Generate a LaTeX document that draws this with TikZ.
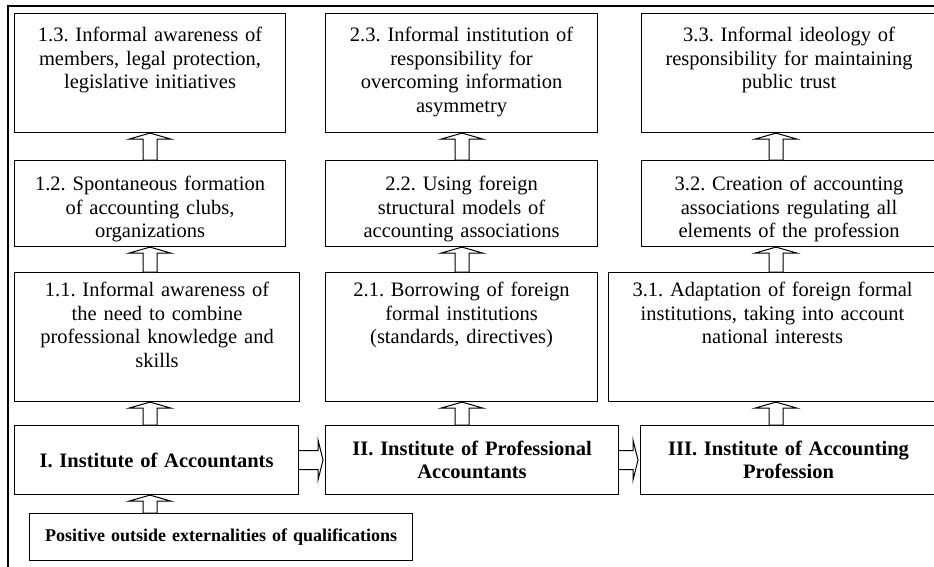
\documentclass[tikz,border=0pt]{standalone}
\usepackage{fontspec}
\setmainfont{Liberation Serif}
\usetikzlibrary{calc}
\newcommand{\cellfont}{\fontsize{20.5}{23.5}\selectfont\frenchspacing}
\tikzset{
  cell/.style={rectangle,draw,line width=1.1pt,anchor=north west,
    align=center,inner xsep=4pt,font=\cellfont,text height=15pt},
  inst/.style={rectangle,draw,line width=1.1pt,anchor=north west,
    align=center,inner xsep=4pt,font=\cellfont\bfseries},
  frame/.style={line width=1.8pt},
  upblock/.style={draw,line width=1pt,fill=white,
    to path={let \p1=(\tikztostart),\p2=(\tikztotarget) in
      (\x1-7pt,\y1) -- (\x1-7pt,\y2-6pt) -- (\x1-21pt,\y2-6pt)
      -- (\x1,\y2) -- (\x1+21pt,\y2-6pt) -- (\x1+7pt,\y2-6pt)
      -- (\x1+7pt,\y1) -- cycle}},
  rightblock/.style={draw,line width=1pt,fill=white,
    to path={let \p1=(\tikztostart),\p2=(\tikztotarget) in
      (\x1,\y1+9.5pt) -- (\x2-7pt,\y1+9.5pt) -- (\x2-7pt,\y1+20pt)
      -- (\x2-2pt,\y1) -- (\x2-7pt,\y1-20pt) -- (\x2-7pt,\y1-9.5pt)
      -- (\x1,\y1-9.5pt)}}
}

\begin{document}
\begin{tikzpicture}[x=1pt,y=-1pt]
  \useasboundingbox (0,0) rectangle (934,566);

  \draw[frame] (8,6) rectangle (950,580);

  % column axes of the block arrows
  \coordinate (axisA) at (150,0);
  \coordinate (axisB) at (462,0);
  \coordinate (axisC) at (776,0);

  % third stage
  \node[cell,text width=263pt,inner ysep=13pt,text depth=78pt] (awareness) at (14,13)
    {1.3. Informal awareness of\\ members, legal protection,\\ legislative initiatives};
  \node[cell,text width=264pt,inner ysep=13pt,text depth=78pt] (responsibility) at (325,13)
    {2.3. Informal institution of\\ responsibility for\\ overcoming information\\ asymmetry};
  \node[cell,text width=287pt,inner ysep=13pt,text depth=78pt] (trust) at (641,13)
    {3.3. Informal ideology of\\ responsibility for maintaining\\ public trust};

  % second stage
  \node[cell,text width=263pt,inner ysep=15pt,text depth=41pt] (clubs) at (14,160)
    {1.2. Spontaneous formation\\ of accounting clubs,\\ organizations};
  \node[cell,text width=264pt,inner ysep=15pt,text depth=41pt] (models) at (325,160)
    {2.2. Using foreign\\ structural models of\\ accounting associations};
  \node[cell,text width=287pt,inner ysep=15pt,text depth=41pt] (associations) at (641,160)
    {3.2. Creation of accounting\\ associations regulating all\\ elements of the profession};

  % first stage
  \node[cell,text width=277pt,inner ysep=9pt,text depth=96pt] (combine) at (14,272)
    {1.1. Informal awareness of\\ the need to combine\\ professional knowledge and\\ skills};
  \node[cell,text width=264pt,inner ysep=9pt,text depth=96pt] (borrowing) at (325,272)
    {2.1. Borrowing of foreign\\ formal institutions\\ (standards, directives)};
  \node[cell,text width=320pt,inner ysep=9pt,text depth=96pt] (adaptation) at (608,272)
    {3.1. Adaptation of foreign formal\\ institutions, taking into account\\ national interests};

  % institutes
  \node[inst,text width=276pt,minimum height=69pt] (instA) at (14,425)
    {I. Institute of Accountants};
  \node[inst,text width=285pt,minimum height=69pt] (instPA) at (325,425)
    {II. Institute of Professional\\ Accountants};
  \node[inst,text width=288pt,minimum height=69pt] (instAP) at (640,425)
    {III. Institute of Accounting\\ Profession};

  \node[inst,text width=375pt,minimum height=47pt,
    font=\fontsize{18}{21}\selectfont\bfseries] (externals) at (29,513)
    {Positive outside externalities of qualifications};

  \draw[upblock] (clubs.north -| axisA) to (awareness.south);
  \draw[upblock] (models.north -| axisB) to (responsibility.south);
  \draw[upblock] (associations.north -| axisC) to (trust.south);
  \draw[upblock] (combine.north -| axisA) to (clubs.south);
  \draw[upblock] (borrowing.north -| axisB) to (models.south);
  \draw[upblock] (adaptation.north -| axisC) to (associations.south);
  \draw[upblock] (instA.north -| axisA) to (combine.south);
  \draw[upblock] (instPA.north -| axisB) to (borrowing.south);
  \draw[upblock] (instAP.north -| axisC) to (adaptation.south);
  \draw[upblock] (externals.north -| axisA) to (instA.south);

  \draw[rightblock] (instA.east) to (instPA.west);
  \draw[rightblock] (instPA.east) to (instAP.west);
\end{tikzpicture}
\end{document}
